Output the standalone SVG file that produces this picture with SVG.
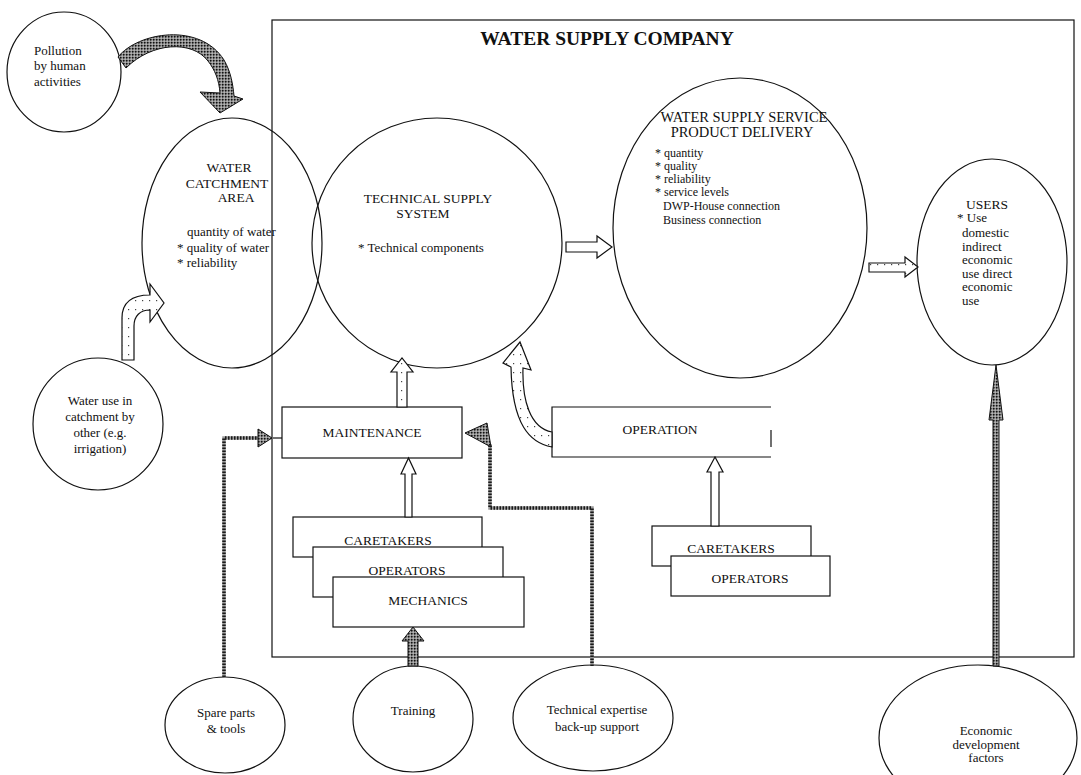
<svg xmlns="http://www.w3.org/2000/svg" width="1081" height="775" viewBox="0 0 1081 775">
  <style>
    .t { font-family: "Liberation Serif", "Times New Roman", serif; font-size: 13px; fill: #111; }
    .s { font-size: 12px; }
    .c { text-anchor: middle; }
    .cap { font-size: 13.5px; }
    .title { font-family: "Liberation Serif", "Times New Roman", serif; font-size: 19.5px; font-weight: bold; fill: #111; text-anchor: middle; }
    .ln { fill: none; stroke: #111; stroke-width: 1.2; }
    .box { fill: #fff; stroke: #111; stroke-width: 1.2; }
    .hollow { fill: #fff; stroke: #111; stroke-width: 1.2; stroke-linejoin: miter; }
    .light { fill: url(#sparse); stroke: #111; stroke-width: 1.2; }
    .heavy { fill: url(#dense); stroke: #111; stroke-width: 1; }
    .dotbase { fill: none; stroke: #9a9a9a; stroke-width: 3.5; }
    .dot { fill: none; stroke: #1a1a1a; stroke-width: 3.5; stroke-dasharray: 1.5 1.5; }
  </style>
  <defs>
    <!-- sparse speckle for lightly shaded block arrows -->
    <pattern id="sparse" width="7" height="9" patternUnits="userSpaceOnUse">
      <rect width="7" height="9" fill="#fff"/>
      <rect x="2" y="3" width="1.2" height="1.2" fill="#444"/>
    </pattern>
    <!-- dense stipple for heavily shaded arrows -->
    <pattern id="dense" width="3" height="3" patternUnits="userSpaceOnUse">
      <rect width="3" height="3" fill="#8a8a8a"/>
      <rect width="1.5" height="1.5" fill="#111"/>
      <rect x="1.6" y="1.6" width="1" height="1" fill="#fff"/>
    </pattern>
  </defs>

  <rect width="1081" height="775" fill="#fff"/>

  <!-- company boundary -->
  <g id="company">
    <rect x="272" y="20" width="802" height="637" class="ln"/>
    <text x="607" y="45" class="title">WATER SUPPLY COMPANY</text>
  </g>

  <g id="pollution">
    <ellipse cx="64" cy="72" rx="57" ry="60" class="ln"/>
    <text class="t" x="34" y="55">Pollution</text>
    <text class="t" x="34" y="70">by human</text>
    <text class="t" x="34" y="86">activities</text>
  </g>

  <g id="catchment">
    <ellipse cx="232" cy="243" rx="90" ry="125" class="ln"/>
    <text class="t c cap" x="229" y="172">WATER</text>
    <text class="t c cap" x="227" y="188">CATCHMENT</text>
    <text class="t c cap" x="236" y="202">AREA</text>
    <text class="t" x="187" y="236">quantity of water</text>
    <text class="t" x="177" y="252">* quality of water</text>
    <text class="t" x="177" y="267">* reliability</text>
  </g>

  <g id="technical">
    <ellipse cx="437" cy="243" rx="125" ry="125" class="ln"/>
    <text class="t c cap" x="428" y="203">TECHNICAL SUPPLY</text>
    <text class="t c cap" x="423" y="218">SYSTEM</text>
    <text class="t" x="358" y="252">* Technical components</text>
  </g>

  <g id="service">
    <ellipse cx="740" cy="228" rx="127" ry="150" class="ln"/>
    <text class="t c" x="744" y="122" style="font-size:14.5px">WATER SUPPLY SERVICE</text>
    <text class="t c" x="742" y="137" style="font-size:14.5px">PRODUCT DELIVERY</text>
    <text class="t s" x="655" y="157">* quantity</text>
    <text class="t s" x="655" y="170">* quality</text>
    <text class="t s" x="655" y="183">* reliability</text>
    <text class="t s" x="655" y="196">* service levels</text>
    <text class="t s" x="663" y="210">DWP-House connection</text>
    <text class="t s" x="663" y="224">Business connection</text>
  </g>

  <g id="users">
    <ellipse cx="992" cy="262" rx="75" ry="103" class="ln"/>
    <text class="t c cap" x="987" y="209">USERS</text>
    <text class="t" x="957" y="222">* Use</text>
    <text class="t" x="962" y="237">domestic</text>
    <text class="t" x="962" y="251">indirect</text>
    <text class="t" x="962" y="264">economic</text>
    <text class="t" x="962" y="278">use  direct</text>
    <text class="t" x="962" y="291">economic</text>
    <text class="t" x="962" y="305">use</text>
  </g>

  <g id="water-use">
    <ellipse cx="98" cy="424" rx="65" ry="66" class="ln"/>
    <text class="t c" x="100" y="405">Water use in</text>
    <text class="t c" x="100" y="421">catchment by</text>
    <text class="t c" x="100" y="437">other (e.g.</text>
    <text class="t c" x="100" y="453">irrigation)</text>
  </g>

  <g id="maintenance">
    <rect x="282" y="407" width="180" height="51" class="box"/>
    <text class="t c cap" x="372" y="437">MAINTENANCE</text>
  </g>

  <g id="operation">
    <path d="M771,407 L552,407 L552,457 L771,457" class="ln"/>
    <path d="M771,430 L771,447" class="ln"/>
    <text class="t c cap" x="660" y="434">OPERATION</text>
  </g>

  <g id="maintenance-caretakers">
    <rect x="293" y="517" width="189" height="40" class="box"/>
    <text class="t c cap" x="388" y="545">CARETAKERS</text>
  </g>
  <g id="maintenance-operators">
    <rect x="313" y="547" width="190" height="50" class="box"/>
    <text class="t c cap" x="407" y="575">OPERATORS</text>
  </g>
  <g id="mechanics">
    <rect x="333" y="577" width="191" height="50" class="box"/>
    <text class="t c cap" x="428" y="605">MECHANICS</text>
  </g>

  <g id="operation-caretakers">
    <rect x="652" y="526" width="159" height="40" class="box"/>
    <text class="t c cap" x="731" y="553">CARETAKERS</text>
  </g>
  <g id="operation-operators">
    <rect x="671" y="556" width="159" height="40" class="box"/>
    <text class="t c cap" x="750" y="583">OPERATORS</text>
  </g>

  <g id="spare-parts">
    <ellipse cx="225" cy="725" rx="60" ry="48" class="ln"/>
    <text class="t c" x="226" y="717">Spare parts</text>
    <text class="t c" x="226" y="733">&amp; tools</text>
  </g>

  <g id="training">
    <ellipse cx="413" cy="719" rx="60" ry="53" class="ln"/>
    <text class="t c" x="413" y="715">Training</text>
  </g>

  <g id="expertise">
    <ellipse cx="593" cy="718" rx="80" ry="53" class="ln"/>
    <text class="t c" x="597" y="714">Technical expertise</text>
    <text class="t c" x="597" y="731">back-up support</text>
  </g>

  <g id="economic">
    <ellipse cx="978" cy="738" rx="99" ry="73" class="ln"/>
    <text class="t c" x="986" y="735">Economic</text>
    <text class="t c" x="986" y="749">development</text>
    <text class="t c" x="986" y="762">factors</text>
  </g>

  <!-- connectors -->
  <g id="connectors">
    <!-- pollution into catchment -->
    <path class="heavy" d="M118,57 C138,32 200,22 224,60 C231,72 233,85 234,96 L243,99 L220,113 L200,92 L220,93 C219,80 215,70 208,61 C192,40 152,42 126,68 Z"/>
    <!-- other water use into catchment -->
    <path class="light" d="M122,360 L122,318 C122,302 132,295 150,295 L150,284 L164,303 L150,322 L150,310 C140,310 134,316 134,326 L134,360 Z"/>
    <!-- technical system to service delivery -->
    <path class="hollow" d="M566,242 L597,242 L597,236 L612,247 L597,258 L597,252 L566,252 Z"/>
    <!-- service delivery to users -->
    <path class="light" d="M869,263 L905,263 L905,257 L918,267 L905,277 L905,272 L869,272 Z"/>
    <!-- maintenance up to technical system -->
    <path class="light" d="M397,407 L397,372 L391,372 L402,358 L413,372 L407,372 L407,407 Z"/>
    <!-- staff up to maintenance -->
    <path class="hollow" d="M405,517 L405,474 L401,474 L408.5,458 L416,474 L412,474 L412,517 Z"/>
    <!-- training up to mechanics -->
    <path class="heavy" d="M408,666 L408,641 L402,641 L413,627 L424,641 L418,641 L418,666 Z"/>
    <!-- operation staff up to operation -->
    <path class="hollow" d="M711,526 L711,472 L707,472 L715,457 L723,472 L719,472 L719,526 Z"/>
    <!-- operation back to technical system -->
    <path class="light" d="M552,447 C530,443 512,425 511,367 L503,363 L520,342 L531,370 L523,368 C522,400 530,428 552,432 Z"/>
    <!-- economic factors up to users -->
    <path class="heavy" d="M993,666 L993,420 L989,420 L996,365 L1003,420 L999,420 L999,666 Z"/>
    <!-- spare parts to maintenance -->
    <path class="dotbase" d="M224,677 L224,438 L259,438"/>
    <path class="dot" d="M224,677 L224,438 L259,438"/>
    <polygon class="heavy" points="258,429 272,438 258,447"/>
    <path class="ln" d="M273,438 L282,438"/>
    <!-- technical expertise to maintenance -->
    <path class="dotbase" d="M592,666 L592,508 L490,508 L490,444"/>
    <path class="dot" d="M592,666 L592,508 L490,508 L490,444"/>
    <polygon class="heavy" points="465,433 487,423 491,447"/>
  </g>
</svg>
